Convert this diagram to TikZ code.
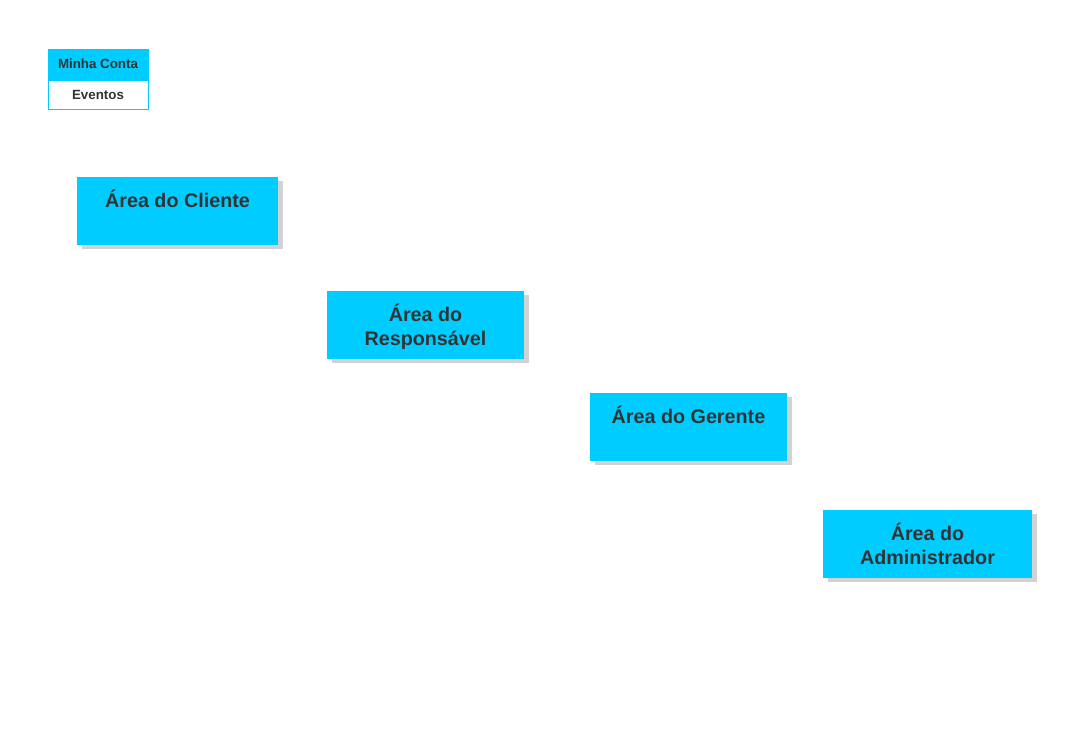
\documentclass[tikz,border=0pt]{standalone}
\usepackage{fontspec}
\setmainfont{Liberation Sans}
\usetikzlibrary{shadows,positioning}
\definecolor{areablue}{HTML}{00CCFF}
\definecolor{areatext}{HTML}{333333}

\begin{document}
\begin{tikzpicture}[x=0.75pt,y=-0.75pt,
  area box/.style={rectangle,fill=areablue,minimum height=51pt,inner sep=0pt,
    drop shadow={shadow xshift=3.5pt,shadow yshift=-3pt,fill=black!35,opacity=0.5}},
  area text/.style={anchor=north,inner sep=0pt,align=center,text=areatext,
    font=\fontsize{14.8pt}{18pt}\selectfont\bfseries},
  menu cell/.style={rectangle,draw=areablue,line width=0.75pt,minimum width=75pt,
    inner sep=0pt,text=areatext,font=\fontsize{10pt}{12pt}\selectfont\bfseries}]

  \useasboundingbox (0,0) rectangle (1065,750);

  % Menu
  \node[menu cell,fill=areablue,minimum height=22.5pt] (conta) at (98,64) {Minha Conta};
  \node[menu cell,fill=white,minimum height=21.75pt,below=0pt of conta] (eventos) {Eventos};

  % Areas
  \node[area box,minimum width=150.75pt] (cliente) at (177.5,211) {};
  \node[area text] (cliente txt) at ([yshift=-10pt]cliente.north) {Área do Cliente};

  \node[area box,minimum width=147.75pt] (responsavel) at (425.5,325) {};
  \node[area text] (responsavel txt) at ([yshift=-10pt]responsavel.north) {Área do\\Responsável};

  \node[area box,minimum width=147.75pt] (gerente) at (688.5,427) {};
  \node[area text] (gerente txt) at ([yshift=-10pt]gerente.north) {Área do Gerente};

  \node[area box,minimum width=156.75pt] (admin) at (927.5,544) {};
  \node[area text] (admin txt) at ([yshift=-10pt]admin.north) {Área do\\Administrador};

\end{tikzpicture}
\end{document}
